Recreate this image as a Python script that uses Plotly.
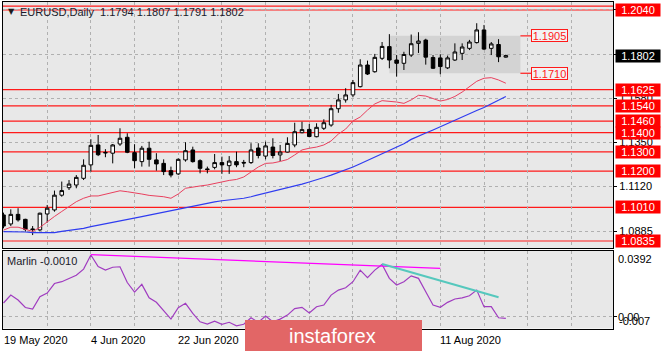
import plotly.graph_objects as go

# ---------------- data ----------------
bars = list(range(70))
open_ = [1.0971,1.0924,1.0974,1.0948,1.0898,1.0893,1.0976,1.0997,1.1074,1.1113,
         1.1127,1.1162,1.1232,1.1336,1.1297,1.1293,1.1341,1.1376,1.1296,1.1249,
         1.1319,1.1258,1.1240,1.1202,1.1185,1.1258,1.1310,1.1254,1.1211,1.1219,
         1.1244,1.1228,1.1249,1.1245,1.1244,1.1320,1.1278,1.1325,1.1284,1.1299,
         1.1336,1.1400,1.1417,1.1379,1.1423,1.1440,1.1525,1.1571,1.1597,1.1640,
         1.1753,1.1718,1.1788,1.1849,1.1779,1.1762,1.1805,1.1866,1.1883,1.1792,
         1.1790,1.1738,1.1779,1.1814,1.1840,1.1870,1.1936,1.1840,1.1860,1.1794]
high = [1.0983,1.1000,1.1006,1.0951,1.0913,1.0983,1.1023,1.1098,1.1145,1.1153,
        1.1179,1.1261,1.1366,1.1388,1.1314,1.1341,1.1423,1.1397,1.1340,1.1331,
        1.1353,1.1293,1.1261,1.1223,1.1266,1.1350,1.1327,1.1261,1.1223,1.1289,
        1.1275,1.1278,1.1301,1.1258,1.1345,1.1345,1.1353,1.1371,1.1336,1.1376,
        1.1452,1.1457,1.1445,1.1449,1.1470,1.1545,1.1602,1.1632,1.1675,1.1783,
        1.1776,1.1811,1.1873,1.1914,1.1805,1.1822,1.1912,1.1924,1.1890,1.1805,
        1.1809,1.1802,1.1866,1.1866,1.1884,1.1971,1.1962,1.1873,1.1888,1.1807]
low = [1.0901,1.0913,1.0936,1.0884,1.0866,1.0887,1.0931,1.0988,1.1066,1.1101,
       1.1110,1.1153,1.1197,1.1278,1.1272,1.1240,1.1331,1.1293,1.1214,1.1223,
       1.1223,1.1202,1.1179,1.1167,1.1179,1.1249,1.1244,1.1188,1.1188,1.1209,
       1.1185,1.1185,1.1220,1.1220,1.1237,1.1266,1.1261,1.1266,1.1252,1.1297,
       1.1324,1.1397,1.1376,1.1376,1.1414,1.1431,1.1504,1.1557,1.1585,1.1636,
       1.1701,1.1713,1.1779,1.1736,1.1693,1.1727,1.1795,1.1816,1.1755,1.1732,
       1.1705,1.1732,1.1774,1.1779,1.1831,1.1865,1.1831,1.1805,1.1768,1.1791]
close = [1.0913,1.0974,1.0945,1.0896,1.0895,1.0980,1.1006,1.1074,1.1098,1.1132,
         1.1167,1.1230,1.1334,1.1285,1.1295,1.1336,1.1371,1.1298,1.1254,1.1319,
         1.1261,1.1237,1.1197,1.1179,1.1261,1.1306,1.1249,1.1214,1.1208,1.1244,
         1.1232,1.1252,1.1232,1.1242,1.1310,1.1281,1.1331,1.1281,1.1299,1.1344,
         1.1405,1.1416,1.1380,1.1428,1.1452,1.1525,1.1571,1.1597,1.1661,1.1753,
         1.1706,1.1793,1.1850,1.1779,1.1762,1.1808,1.1864,1.1878,1.1794,1.1736,
         1.1745,1.1790,1.1821,1.1847,1.1873,1.1936,1.1836,1.1863,1.1796,1.1802]
ma_red = [1.0892,1.0907,1.0907,1.0895,1.0885,1.0906,1.0937,1.0963,1.0989,1.1014,
          1.1040,1.1058,1.1070,1.1070,1.1080,1.1091,1.1097,1.1092,1.1087,1.1080,
          1.1073,1.1070,1.1066,1.1058,1.1080,1.1110,1.1118,1.1122,1.1127,1.1136,
          1.1145,1.1151,1.1156,1.1169,1.1195,1.1221,1.1240,1.1242,1.1250,1.1260,
          1.1284,1.1310,1.1319,1.1325,1.1336,1.1357,1.1393,1.1419,1.1461,1.1482,
          1.1518,1.1550,1.1567,1.1565,1.1560,1.1553,1.1571,1.1595,1.1591,1.1578,
          1.1565,1.1573,1.1589,1.1612,1.1641,1.1668,1.1684,1.1687,1.1675,1.1658]
ma_blue = [1.0884,1.0884,1.0884,1.0882,1.0879,1.0878,1.0878,1.0879,1.0885,1.0890,
           1.0895,1.0901,1.0910,1.0917,1.0924,1.0932,1.0939,1.0947,1.0955,1.0962,
           1.0970,1.0978,1.0985,1.0993,1.1000,1.1008,1.1016,1.1023,1.1031,1.1039,
           1.1045,1.1049,1.1053,1.1058,1.1066,1.1075,1.1083,1.1092,1.1101,1.1111,
           1.1121,1.1132,1.1143,1.1153,1.1166,1.1179,1.1192,1.1205,1.1221,1.1238,
           1.1255,1.1272,1.1289,1.1305,1.1323,1.1342,1.1365,1.1383,1.1398,1.1414,
           1.1431,1.1451,1.1466,1.1485,1.1500,1.1516,1.1531,1.1550,1.1571,1.1589]
marlin = [0.0082,0.0129,0.0100,0.0055,0.0046,0.0119,0.0141,0.0198,0.0209,0.0227,
          0.0247,0.0284,0.0368,0.0299,0.0278,0.0295,0.0298,0.0204,0.0147,0.0193,
          0.0113,0.0086,0.0034,-0.0014,0.0054,0.0080,0.0020,-0.0030,-0.0044,-0.0026,
          -0.0045,-0.0033,-0.0054,-0.0045,-0.0006,-0.0033,0.0004,-0.0030,-0.0014,0.0010,
          0.0049,0.0056,0.0022,0.0060,0.0070,0.0129,0.0159,0.0173,0.0209,0.0278,
          0.0233,0.0278,0.0312,0.0229,0.0189,0.0209,0.0244,0.0229,0.0149,0.0070,
          0.0056,0.0086,0.0106,0.0113,0.0125,0.0159,0.0060,0.0060,-0.0006,-0.0010]

levels = [1.2060, 1.2040, 1.1625, 1.1540, 1.1460, 1.1400, 1.1300, 1.1200, 1.1010, 1.0835]
level_labels = [1.2040, 1.1625, 1.1540, 1.1460, 1.1400, 1.1300, 1.1200, 1.1010, 1.0835]
grid_prices = [1.0885, 1.1120, 1.1350, 1.1580, 1.1810, 1.2040]
range_box = [1.1710, 1.1905]
range_box_bars = [53, 71]
current_price = close[-1]
marlin_ticks = [0.0392, 0.00, -0.007]
date_bars = [0, 12, 24, 60]
date_labels = ["19 May 2020", "4 Jun 2020", "22 Jun 2020", "11 Aug 2020"]
magenta_line = ([12, 60], [0.0370, 0.0289])
teal_line = ([52, 68], [0.0314, 0.0116])

# ---------------- layout geometry ----------------
W, H = 665, 351
FONT = "Liberation Sans, Arial, sans-serif"
xdom = [3 / W, 613 / W]
ydom_main = [1 - 248 / H, 1 - 2 / H]
ydom_sub = [1 - 328.5 / H, 1 - 251 / H]
xr = [-0.07, 83.72]
grid_bars = list(range(0, 84, 6))
GRIDC = "#b0b0b0"

fig = go.Figure()

fig.add_trace(go.Scatter(x=bars, y=ma_red, mode="lines", line=dict(color="#e8405e", width=1),
                         xaxis="x", yaxis="y", hoverinfo="skip"))
fig.add_trace(go.Scatter(x=bars, y=ma_blue, mode="lines", line=dict(color="#2f3cf0", width=1.2),
                         xaxis="x", yaxis="y", hoverinfo="skip"))
fig.add_trace(go.Candlestick(x=bars, open=open_, high=high, low=low, close=close,
                             increasing=dict(line=dict(color="black", width=1), fillcolor="white"),
                             decreasing=dict(line=dict(color="black", width=1), fillcolor="black"),
                             whiskerwidth=0, xaxis="x", yaxis="y"))

fig.add_trace(go.Scatter(x=bars, y=marlin, mode="lines", line=dict(color="#a03cc0", width=1.2),
                         xaxis="x2", yaxis="y2", hoverinfo="skip"))
fig.add_trace(go.Scatter(x=magenta_line[0], y=magenta_line[1], mode="lines",
                         line=dict(color="#ff00ff", width=1.3), xaxis="x2", yaxis="y2"))
fig.add_trace(go.Scatter(x=teal_line[0], y=teal_line[1], mode="lines",
                         line=dict(color="#55c8bd", width=2), xaxis="x2", yaxis="y2"))

shapes = []
shapes.append(dict(type="rect", xref="x", yref="y", x0=range_box_bars[0], x1=range_box_bars[1],
                   y0=range_box[0], y1=range_box[1], fillcolor="#d3d3d3", line=dict(width=0),
                   layer="below"))
for lv in levels:
    shapes.append(dict(type="line", xref="x", yref="y", x0=xr[0], x1=xr[1], y0=lv, y1=lv,
                       line=dict(color="#ff1a1a", width=1.2), layer="below"))
for lv in range_box:
    shapes.append(dict(type="line", xref="x", yref="y", x0=range_box_bars[1], x1=range_box_bars[1] + 1.5,
                       y0=lv, y1=lv, line=dict(color="#ff1a1a", width=1.2), layer="below"))
# watermark
shapes.append(dict(type="rect", xref="paper", yref="paper", x0=245 / W, x1=422 / W, y0=0, y1=1 - 320 / H,
                   fillcolor="#e26666", line=dict(width=0), layer="above"))

ann = []
# header text
ann.append(dict(xref="paper", yref="paper", x=6 / W, y=1 - 12 / H, xanchor="left", yanchor="middle",
                text="▼", showarrow=False, font=dict(family="DejaVu Sans", size=8, color="#1a1a1a")))
ann.append(dict(xref="paper", yref="paper", x=18 / W, y=1 - 12 / H, xanchor="left", yanchor="middle",
                text="EURUSD,Daily  %.4f %.4f %.4f %.4f" % (open_[-1], high[-1], low[-1], close[-1]),
                showarrow=False, font=dict(family=FONT, size=11, color="#1a1a2a")))
ann.append(dict(xref="paper", yref="paper", x=5 / W, y=1 - 261 / H, xanchor="left", yanchor="middle",
                text="Marlin %.4f" % marlin[-1], showarrow=False,
                font=dict(family=FONT, size=11, color="#1a1a2a")))
# range labels
for lv in range_box:
    ann.append(dict(xref="x", yref="y", x=range_box_bars[1] + 1.5, y=lv, xanchor="left", yanchor="middle",
                    text="%.4f" % lv, showarrow=False, bgcolor="#f2f2f2", bordercolor="#ff1a1a",
                    borderwidth=1, borderpad=0, width=35, height=11,
                    font=dict(family=FONT, size=11, color="#ff1a1a")))
# right price labels
for lv in level_labels:
    ann.append(dict(xref="paper", yref="y", x=615 / W, y=lv, xanchor="left", yanchor="middle",
                    text="%.4f" % lv, showarrow=False, bgcolor="#ff0000", borderpad=0,
                    width=44, height=12, font=dict(family=FONT, size=11, color="white")))
ann.append(dict(xref="paper", yref="y", x=615 / W, y=current_price, xanchor="left", yanchor="middle",
                text="%.4f" % current_price, showarrow=False, bgcolor="#000000", borderpad=0,
                width=44, height=12, font=dict(family=FONT, size=11, color="white")))
# marlin scale labels
ann.append(dict(xref="paper", yref="y2", x=616 / W, y=marlin_ticks[0], xanchor="left", yanchor="top",
                text="%.4f" % marlin_ticks[0], showarrow=False, font=dict(family=FONT, size=11, color="black")))
ann.append(dict(xref="paper", yref="y2", x=616 / W, y=marlin_ticks[1], xanchor="left", yanchor="middle",
                text="%.2f" % marlin_ticks[1], showarrow=False, font=dict(family=FONT, size=11, color="black")))
ann.append(dict(xref="paper", yref="y2", x=617 / W, y=marlin_ticks[2], xanchor="left", yanchor="bottom",
                text="%.3f" % marlin_ticks[2], showarrow=False, font=dict(family=FONT, size=11, color="black")))
# date labels
for b, t in zip(date_bars, date_labels):
    ann.append(dict(xref="x2", yref="paper", x=b, y=1 - 340 / H, xanchor="left", yanchor="middle",
                    xshift=-2, text=t, showarrow=False, font=dict(family=FONT, size=11, color="black")))
# watermark text
ann.append(dict(xref="paper", yref="paper", x=332 / W, y=1 - 336 / H, xanchor="center", yanchor="middle",
                text="instaforex", showarrow=False, font=dict(family=FONT, size=20, color="white")))

axis_common = dict(showline=True, mirror=True, linecolor="black", linewidth=1, zeroline=False)

fig.update_layout(
    width=W, height=H, margin=dict(l=0, r=0, t=0, b=0),
    paper_bgcolor="white", plot_bgcolor="#e8e8e8", showlegend=False,
    shapes=shapes, annotations=ann,
    xaxis=dict(domain=xdom, range=xr, anchor="y", tickvals=grid_bars, showticklabels=False, ticks="",
               showgrid=True, gridcolor=GRIDC, griddash="3px,3px", gridwidth=1,
               rangeslider=dict(visible=False), **axis_common),
    yaxis=dict(domain=ydom_main, range=[1.07985, 1.20817], anchor="x", side="right",
               tickvals=grid_prices, tickformat=".4f", ticks="outside", ticklen=3, tickcolor="black",
               tickfont=dict(family=FONT, size=11, color="black"),
               showgrid=True, gridcolor=GRIDC, griddash="3px,3px", gridwidth=1, **axis_common),
    xaxis2=dict(domain=xdom, range=xr, anchor="y2", tickvals=grid_bars, showticklabels=False, ticks="",
                showgrid=True, gridcolor=GRIDC, griddash="3px,3px", gridwidth=1, **axis_common),
    yaxis2=dict(domain=ydom_sub, range=[-0.007, 0.0392], anchor="x2", side="right",
                tickvals=[0], showticklabels=False, ticks="outside", ticklen=3, tickcolor="black",
                showgrid=True, gridcolor=GRIDC, griddash="3px,3px", gridwidth=1, **axis_common),
)

fig.write_html("out.html")
